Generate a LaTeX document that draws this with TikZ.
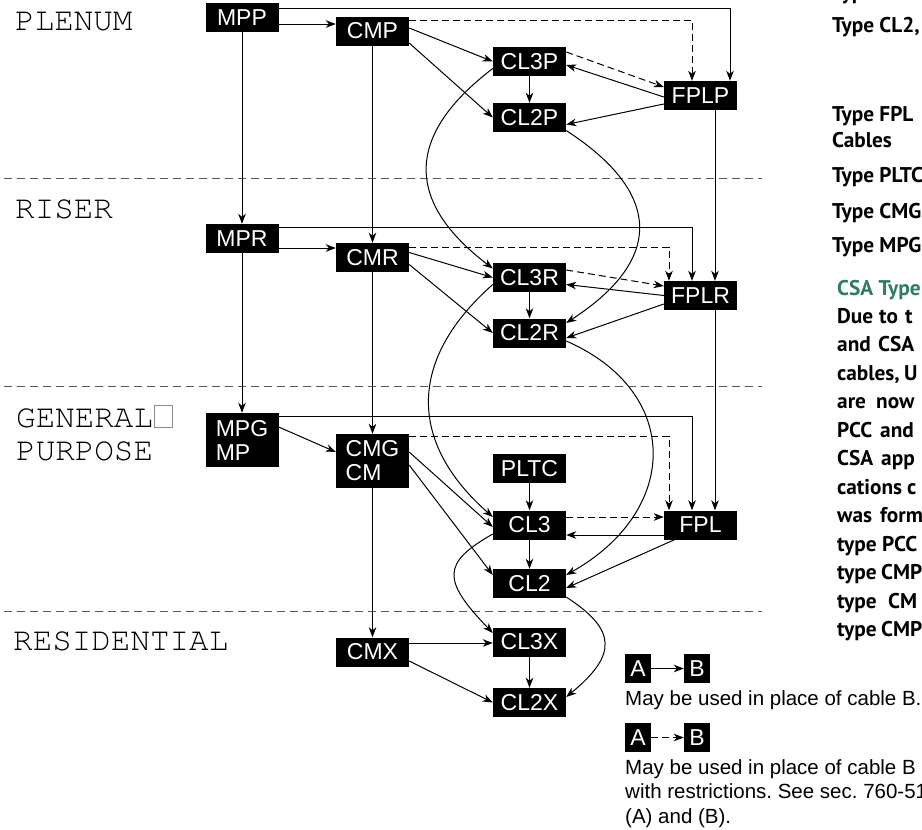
\documentclass[tikz,border=0pt]{standalone}
\usepackage{fontspec}
\usetikzlibrary{arrows.meta,calc}
\newfontfamily\helv{Liberation Sans}
\newfontfamily\cour{texgyrecursor-regular.otf}
\newfontfamily\ptsans{PT Sans}
\definecolor{csagreen}{RGB}{46,125,96}
\frenchspacing
\begin{document}
\begin{tikzpicture}[x=1pt,y=-1pt,
  cab/.style={fill=black,text=white,minimum width=73pt,minimum height=29pt,inner sep=0pt,font=\helv\fontsize{23}{24}\selectfont},
  cabtwo/.style={cab,minimum height=54pt,align=left},
  leg/.style={cab,minimum width=26pt},
  conn/.style={line width=1pt,-{Stealth[length=10pt,width=7.5pt,inset=3pt]}},
  dconn/.style={conn,dash pattern=on 7pt off 4pt},
  divider/.style={line width=1pt,draw=black!65,dash pattern=on 8pt off 5pt},
  zone/.style={anchor=base west,inner sep=0pt,font=\cour\fontsize{32.6}{33}\selectfont},
  side/.style={anchor=base west,inner sep=0pt,font=\ptsans\bfseries\fontsize{21.3}{24}\selectfont},
  note/.style={anchor=base west,inner sep=0pt,font=\helv\fontsize{20.5}{24.5}\selectfont}]
\useasboundingbox (0,0) rectangle (922,830);

% dividers
\draw[divider] (4,178) -- (762,178);
\draw[divider] (4,386) -- (762,386);
\draw[divider] (4,611) -- (762,611);

% zone labels
\node[zone] (plenum) at (15,30) {PLENUM};
\node[zone] (riser) at (15,218) {RISER};
\node[zone] (general) at (16,427) {GENERAL};
\node[zone] (purpose) at (16,460) {PURPOSE};
\node[zone] (resid) at (13,650) {RESIDENTIAL};
\draw[black!45,line width=0.8pt] ([xshift=1.5pt]general.base east) rectangle ([xshift=19pt,yshift=22pt]general.base east);

% cable boxes
\node[cab] (MPP) at (242,17.5) {MPP};
\node[cab] (CMP) at (372.5,31) {CMP};
\node[cab] (CL3P) at (529.5,61.5) {CL3P};
\node[cab] (CL2P) at (529.5,117.5) {CL2P};
\node[cab] (FPLP) at (700.5,95.5) {FPLP};
\node[cab] (MPR) at (242,238.5) {MPR};
\node[cab] (CMR) at (372.5,257.5) {CMR};
\node[cab] (CL3R) at (529.5,277.5) {CL3R};
\node[cab] (CL2R) at (529.5,333) {CL2R};
\node[cab] (FPLR) at (700.5,295.5) {FPLR};
\node[cabtwo] (MPG) at (242,440) {MPG\\MP};
\node[cabtwo] (CMG) at (372.5,461) {CMG\\CM};
\node[cab] (PLTC) at (529.5,468.5) {PLTC};
\node[cab] (CL3) at (529.5,525) {CL3};
\node[cab] (FPL) at (700.5,525) {FPL};
\node[cab] (CL2) at (529.5,583.5) {CL2};
\node[cab] (CMX) at (372.5,652) {CMX};
\node[cab] (CL3X) at (529.5,642) {CL3X};
\node[cab] (CL2X) at (529.5,702.5) {CL2X};

% plenum connectors
\draw[conn] ([yshift=-6.5pt]MPP.east) -- ([yshift=-6.5pt]MPP.east -| CMP.west);
\draw[conn] ([yshift=9.5pt]MPP.east) -| ([xshift=29.5pt]FPLP.north);
\draw[dconn] ([yshift=11pt]CMP.east) -| ([xshift=-8.5pt]FPLP.north);
\draw[conn] ([yshift=3pt]CMP.east) -- (CL3P.west);
\draw[conn] ([yshift=-12pt]CMP.east) -- (CL2P.west);
\draw[conn] (CMP.south) -- (CMR.north);
\draw[conn] (MPP.south) -- (MPR.north);
\draw[conn] (CL3P.south) -- (CL2P.north);
\draw[dconn] ([yshift=9.5pt]CL3P.east) -- ([yshift=8.5pt]FPLP.west);
\draw[conn] ([yshift=-1.5pt]FPLP.west) -- ([yshift=-3.5pt]CL3P.east);
\draw[conn] ([yshift=-8.5pt]FPLP.west) -- ([yshift=-7pt]CL2P.east);
\draw[conn] ([xshift=14.5pt]FPLP.south) -- ([xshift=14.5pt]FPLR.north);
\draw[conn] ([yshift=-7pt]CL3P.west) .. controls +(-88,67) and +(-88,-67) .. ([yshift=9pt]CL3R.west);
\draw[conn] ([yshift=-13pt]CL2P.east) .. controls +(97,63) and +(97,-63) .. ([yshift=10pt]CL2R.east);

% riser connectors
\draw[conn] ([yshift=-9.5pt]MPR.east) -- ([yshift=-9.5pt]MPR.east -| CMR.west);
\draw[conn] ([yshift=11.5pt]MPR.east) -| ([xshift=-8.5pt]FPLR.north);
\draw[dconn] ([yshift=10.5pt]CMR.east) -| ([xshift=-31.5pt]FPLR.north);
\draw[conn] ([yshift=5pt]CMR.east) -- (CL3R.west);
\draw[conn] ([yshift=-7pt]CMR.east) -- (CL2R.west);
\draw[conn] (CMR.south) -- (CMG.north);
\draw[conn] (MPR.south) -- (MPG.north);
\draw[conn] (CL3R.south) -- (CL2R.north);
\draw[dconn] ([yshift=7.5pt]CL3R.east) -- ([yshift=9.5pt]FPLR.west);
\draw[conn] (FPLR.west) -- ([yshift=-7pt]CL3R.east);
\draw[conn] ([yshift=-8.5pt]FPLR.west) -- ([yshift=-5pt]CL2R.east);
\draw[conn] ([xshift=14.5pt]FPLR.south) -- ([xshift=14.5pt]FPL.north);
\draw[conn] ([yshift=-7pt]CL3R.west) .. controls +(-85,75) and +(-85,-75) .. ([yshift=8pt]CL3.west);
\draw[conn] ([yshift=-8pt]CL2R.east) .. controls +(115,50) and +(115,-65) .. ([yshift=8.5pt]CL2.east);

% general purpose connectors
\draw[conn] ([yshift=13pt]MPG.east) -- ([yshift=9pt]CMG.west);
\draw[conn] ([yshift=24pt]MPG.east) -| ([xshift=-8.5pt]FPL.north);
\draw[dconn] ([yshift=25pt]CMG.east) -| ([xshift=-31.5pt]FPL.north);
\draw[conn] ([yshift=9pt]CMG.east) -- ([yshift=-2pt]CL3.west);
\draw[conn] ([yshift=-4pt]CMG.east) -- ([yshift=8.5pt]CL2.west);
\draw[conn] (CMG.south) -- (CMX.north);
\draw[conn] (PLTC.south) -- (CL3.north);
\draw[conn] (CL3.south) -- (CL2.north);
\draw[dconn] ([yshift=8pt]CL3.east) -- ([yshift=8pt]FPL.west);
\draw[conn] ([yshift=-10pt]FPL.west) -- ([yshift=-10pt]CL3.east);
\draw[conn] ([xshift=-26pt]FPL.south) -- ([yshift=-4.5pt]CL2.east);
\draw[conn] ([yshift=-9pt]CL3.west) .. controls +(-51,29) and +(-51,-53) .. ([yshift=9pt]CL3X.west);
\draw[conn] ([yshift=-13.5pt]CL2.east) .. controls +(51,33) and +(51,-42) .. ([yshift=5.5pt]CL2X.east);

% residential connectors
\draw[conn] ([yshift=9pt]CMX.east) -- ([yshift=9pt]CMX.east -| CL3X.west);
\draw[conn] ([yshift=-9pt]CMX.east) -- (CL2X.west);
\draw[conn] (CL3X.south) -- (CL2X.north);

% legend
\node[leg] (A1) at (638,668.5) {A};
\node[leg] (B1) at (697,668.5) {B};
\draw[conn] (A1) -- (B1);
\node[note] (n1) at (625,705) {May be used in place of cable B.};
\node[leg] (A2) at (638,737.5) {A};
\node[leg] (B2) at (697,737.5) {B};
\draw[dconn] (A2) -- (B2);
\node[note] (n2) at (625,774) {May be used in place of cable B};
\node[note] (n3) at (625,798.5) {with restrictions. See sec. 760-51};
\node[note] (n4) at (625,823) {(A) and (B).};

% side text
\node[side] (s0) at (832,-1) {Type};
\node[side] (s1) at (832,32) {Type CL2,};
\node[side] (s2) at (832,121) {Type FPL};
\node[side] (s3) at (832,147) {Cables};
\node[side] (s4) at (832,182) {Type PLTC};
\node[side] (s5) at (832,218) {Type CMG};
\node[side] (s6) at (832,252) {Type MPG};
\node[side,text=csagreen] (c0) at (837,295) {CSA Type};
\node[side] (c1) at (837,323) {\rlap{Due}\hspace{42pt}\rlap{to}\hspace{26pt}t};
\node[side] (c2) at (837,351.5) {\rlap{and}\hspace{41pt}CSA};
\node[side] (c3) at (837,380) {\rlap{cables,}\hspace{67pt}U};
\node[side] (c4) at (837,408.5) {\rlap{are}\hspace{39pt}now};
\node[side] (c5) at (837,437) {\rlap{PCC}\hspace{43pt}and};
\node[side] (c6) at (837,465.5) {\rlap{CSA}\hspace{44pt}app};
\node[side] (c7) at (837,494) {\rlap{cations}\hspace{70pt}c};
\node[side] (c8) at (837,522.5) {\rlap{was}\hspace{43pt}form};
\node[side] (c9) at (837,551) {\rlap{type}\hspace{45pt}PCC};
\node[side] (c10) at (837,579.5) {\rlap{type}\hspace{44pt}CMP};
\node[side] (c11) at (837,608) {\rlap{type}\hspace{51pt}CM};
\node[side] (c12) at (837,636.5) {\rlap{type}\hspace{44pt}CMP};
\end{tikzpicture}
\end{document}
